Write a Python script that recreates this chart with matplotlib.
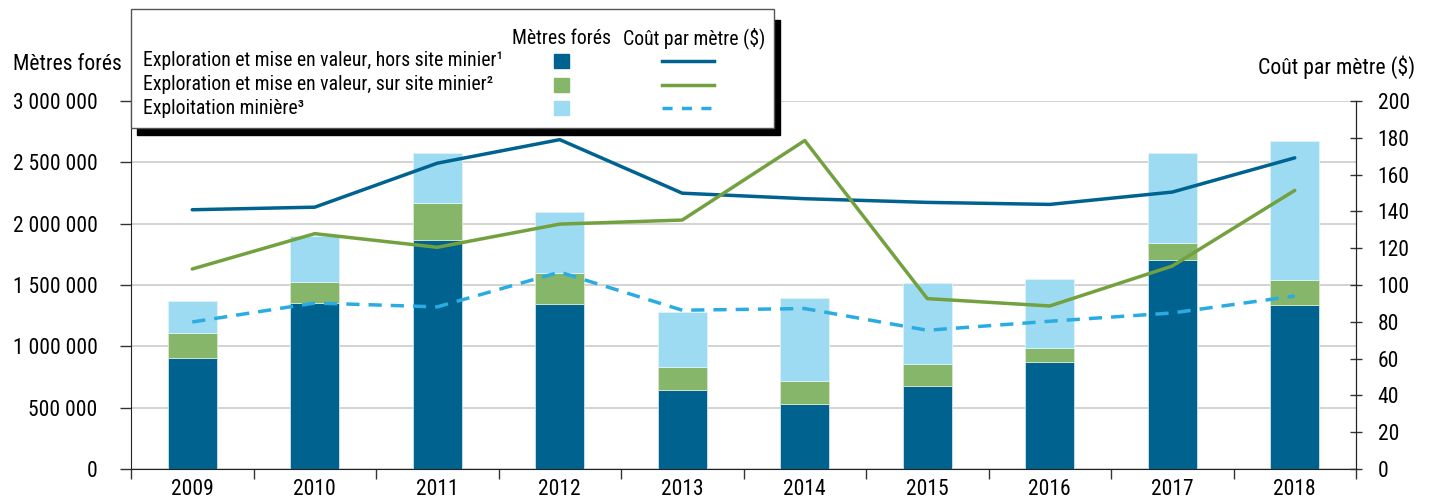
import numpy as np
import matplotlib
matplotlib.use('Agg')
import matplotlib.pyplot as plt
from matplotlib.patches import Rectangle
from matplotlib.lines import Line2D
from matplotlib.ticker import FuncFormatter, MultipleLocator

plt.rcParams['font.family'] = ['Liberation Sans Narrow', 'Roboto Condensed', 'Liberation Sans', 'DejaVu Sans']

# données
annees = ['2009', '2010', '2011', '2012', '2013', '2014', '2015', '2016', '2017', '2018']
hors_site = [906000, 1354000, 1865000, 1349000, 646000, 532000, 673000, 874000, 1704000, 1338000]
sur_site = [204000, 169000, 304000, 247000, 187000, 185000, 185000, 114000, 136000, 201000]
exploitation = [256000, 374000, 404000, 497000, 443000, 678000, 657000, 557000, 733000, 1132000]
cout_hors_site = [140.9, 142.3, 166.2, 179.0, 149.9, 146.9, 144.9, 143.8, 150.5, 169.1]
cout_sur_site = [108.7, 127.9, 120.5, 133.1, 135.3, 178.5, 92.6, 88.6, 110.3, 151.4]
cout_exploitation = [79.9, 90.2, 88.1, 107.0, 86.3, 87.2, 75.4, 80.3, 84.8, 94.0]

c_bleu = '#00638f'
c_vert_barre = '#86b66a'
c_vert_ligne = '#73a13f'
c_bleu_clair = '#9ddbf2'
c_tirets = '#2aace2'

fig = plt.figure(figsize=(14.29, 5.01), dpi=100)
ax = fig.add_axes([131/1429, 1-469/501, (1356-131)/1429, (469-101)/501])
ax2 = ax.twinx()

x = np.arange(len(annees))
w = 0.4
b1 = np.array(hors_site)
b2 = b1 + np.array(sur_site)
ax.bar(x, hors_site, w, color=c_bleu, edgecolor='#cde3ee', linewidth=0.6, zorder=2)
ax.bar(x, sur_site, w, bottom=b1, color=c_vert_barre, edgecolor='#d8e8cf', linewidth=0.6, zorder=2)
ax.bar(x, exploitation, w, bottom=b2, color=c_bleu_clair, edgecolor='#e0f3fa', linewidth=0.6, zorder=2)

ax2.plot(x, cout_hors_site, color=c_bleu, lw=2.5, solid_capstyle='round')
ax2.plot(x, cout_sur_site, color=c_vert_ligne, lw=2.5, solid_capstyle='round')
ax2.plot(x, cout_exploitation, color=c_tirets, lw=2.5, dashes=(3.8, 2.6))

ax.set_xlim(-0.5, len(annees) - 0.5)
ax.set_ylim(0, 3000000)
ax2.set_ylim(0, 200)
ax.yaxis.set_major_locator(MultipleLocator(500000))
ax.yaxis.set_major_formatter(FuncFormatter(lambda v, p: f'{int(v):,}'.replace(',', ' ')))
ax2.yaxis.set_major_locator(MultipleLocator(20))

ax.set_xticks(x)
ax.set_xticklabels(annees)
ax.set_xticks(np.arange(-0.5, len(annees)), minor=True)
ax.tick_params(axis='x', which='major', length=0, labelsize=15.5, pad=7)
ax.tick_params(axis='x', which='minor', length=7, width=1, color='#333333', direction='out')
ax.tick_params(axis='y', length=8, width=1, color='#333333', labelsize=15.5, pad=16)
ax2.tick_params(axis='y', length=9, width=1, color='#333333', labelsize=15.5, pad=11, direction='inout')

ax.grid(axis='y', color='#c8c8c8', lw=1.1, zorder=0)
ax.set_axisbelow(True)
for a in (ax, ax2):
    a.spines['top'].set_visible(False)
    a.spines['left'].set_color('#222222')
    a.spines['right'].set_color('#222222')
    a.spines['bottom'].set_color('#222222')
ax2.spines['left'].set_visible(False)
ax2.spines['bottom'].set_visible(False)

fig.text(13/1429, 1-65/501, 'Mètres forés', fontsize=15.7, va='center', ha='left')
fig.text(1415/1429, 1-67/501, 'Coût par mètre ($)', fontsize=15.7, va='center', ha='right')

# légende
def fx(px):
    return px / 1429
def fy(py):
    return 1 - py / 501

fig.patches.append(Rectangle((fx(137), fy(135)), fx(780) - fx(137), fy(20) - fy(135),
                             transform=fig.transFigure, color='black', zorder=5))
fig.patches.append(Rectangle((fx(131), fy(128)), fx(774) - fx(131), fy(9) - fy(128),
                             transform=fig.transFigure, facecolor='white',
                             edgecolor='#555555', lw=1, zorder=6))
fig.text(fx(561), fy(38), 'Mètres forés', fontsize=14.2, ha='center', va='center', zorder=7)
fig.text(fx(694), fy(38), 'Coût par mètre ($)', fontsize=14.2, ha='center', va='center', zorder=7)
noms = ['Exploration et mise en valeur, hors site minier¹',
        'Exploration et mise en valeur, sur site minier²',
        'Exploitation minière³']
couleurs_barres = [c_bleu, c_vert_barre, c_bleu_clair]
couleurs_lignes = [c_bleu, c_vert_ligne, c_tirets]
styles = [None, None, (2.9, 2.7)]
for i, nom in enumerate(noms):
    yy = 61 + i * 23.5
    fig.text(fx(143), fy(yy), nom, fontsize=14.2, ha='left', va='center', zorder=7)
    fig.patches.append(Rectangle((fx(554), fy(yy + 7)), fx(15), fy(0) - fy(14),
                                 transform=fig.transFigure, color=couleurs_barres[i], zorder=7))
    ln = Line2D([fx(662), fx(714)], [fy(yy), fy(yy)], transform=fig.transFigure,
                color=couleurs_lignes[i], lw=2.5, zorder=7)
    if styles[i]:
        ln.set_dashes(styles[i])
    fig.lines.append(ln)

fig.savefig('out.png', dpi=100)
